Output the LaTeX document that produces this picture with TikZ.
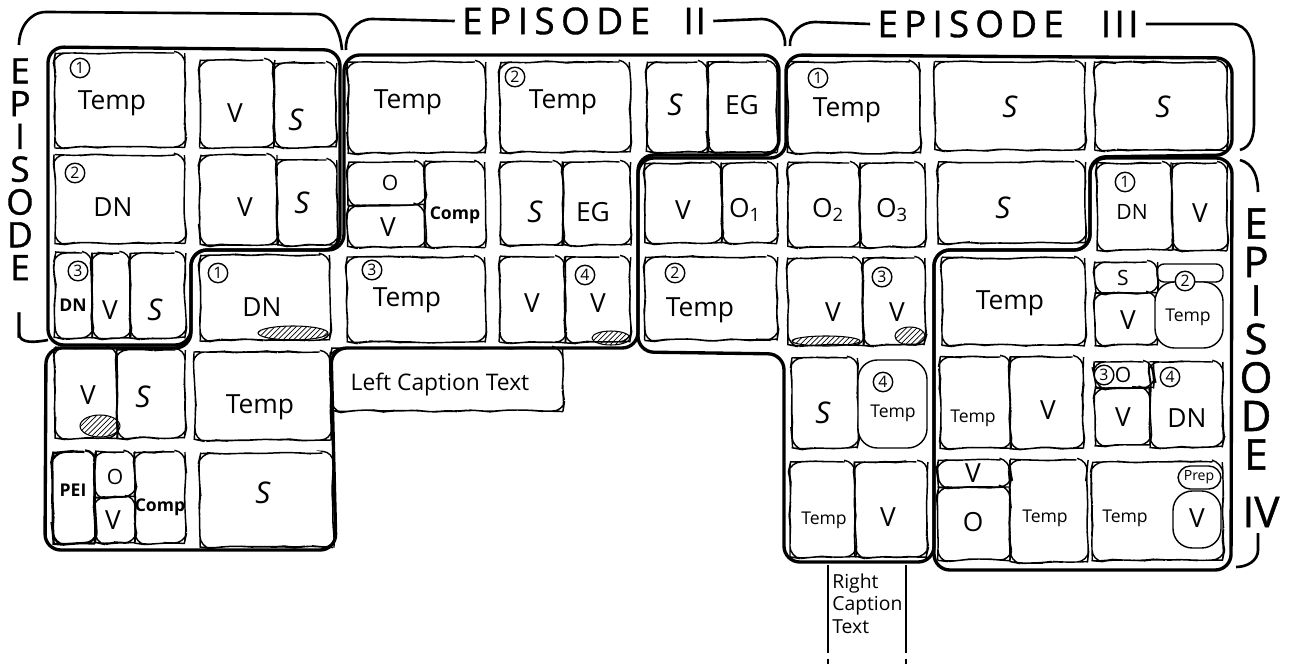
\documentclass[tikz,border=0pt]{standalone}
\usepackage{fontspec}
\setmainfont{Open Sans}
\usetikzlibrary{fit,patterns,decorations.pathmorphing}

\begin{document}
\begin{tikzpicture}
    [x=0.2mm, y=-0.2mm,
    glyph/.style={
        draw,
        line width=0.8pt,
        rounded corners=6pt,
        inner sep=0pt,
        decorate,
        decoration={random steps, segment length=6pt, amplitude=0.6pt}
    },
    blob/.style={draw, line width=0.8pt, rounded corners=11pt, inner sep=0pt},
    episode/.style={
        draw, line width=1.9pt, rounded corners=9pt
    },
    brace/.style={draw, line width=1.5pt},
    txt/.style={inner sep=0pt, font=\fontsize{15}{15}\selectfont},
    sym/.style={inner sep=0pt, font=\fontsize{17}{17}\selectfont\itshape},
    mid/.style={inner sep=0pt, font=\fontsize{12}{12}\selectfont},
    small/.style={inner sep=0pt, font=\fontsize{10}{10}\selectfont},
    comp/.style={inner sep=0pt, font=\fontsize{10}{10}\selectfont\bfseries},
    tiny/.style={inner sep=0pt, font=\fontsize{8}{8}\selectfont},
    num/.style={circle, draw, fill=white, line width=0.8pt, inner sep=1pt, font=\fontsize{9}{9}\selectfont},
    hatch/.style={draw, line width=0.6pt, pattern=north east lines},
    letter/.style={inner sep=0pt, font=\fontsize{20}{20}\selectfont\addfontfeature{FakeBold=1}},
    bigletter/.style={inner sep=0pt, font=\fontsize{24}{24}\selectfont\addfontfeature{FakeBold=1}},
    title/.style={inner sep=0pt, font=\fontsize{21}{21}\selectfont\addfontfeature{FakeBold=1}}
    ]
    \useasboundingbox (0,0) rectangle (1291,665);
    \pgfmathsetseed{11}

    % Episode outlines
    \draw[episode] (48,47) -- (340,50) -- (340,250) -- (191,250) -- (191,345) -- (48,345) -- cycle;
    \draw[episode] (344,55) -- (779,55) -- (779,155) -- (638,155) -- (638,348) -- (331,348)
        -- (336,550) -- (45,550) -- (46,348) -- (191,348) -- (191,250) -- (344,250) -- cycle;
    \draw[episode] (786,55) -- (1232,58) -- (1232,155) -- (1090,157) -- (1090,250) -- (934,250)
        -- (934,562) -- (784,562) -- (784,354) -- (638,352) -- (638,158) -- (786,158) -- cycle;
    \draw[episode] (1090,158) -- (1232,158) -- (1231,570) -- (934,570) -- (934,250) -- (1090,250) -- cycle;

    % Glyph blocks
    \foreach \n/\xa/\ya/\xb/\yb in {
        a1/55/53/185/147, b1v/200/60/274/147, b1s/274/63/336/147,
        c1/348/62/485/153, d1/500/62/630/152, e1s/647/62/708/152, e1g/708/62/777/152,
        f1/788/62/920/153, g1/935/62/1085/150, h1/1095/62/1227/150,
        a2/55/155/185/243, b2v/200/155/277/245, b2s/277/160/337/245,
        c2o/348/162/425/205, c2v/348/205/425/247, c2c/425/162/485/247,
        d2s/500/162/563/245, d2g/563/162/630/245, e2v/645/163/722/243, e2o/722/163/777/243,
        f2a/788/163/860/247, f2b/860/163/925/247, g2/938/162/1085/243,
        h2d/1097/163/1172/250, h2v/1172/163/1227/250,
        a3d/55/253/92/338, a3v/92/253/130/338, a3s/130/253/185/338,
        b3/200/255/330/340, c3/347/257/485/342, d3a/500/257/565/342, d3b/565/257/630/342,
        e3/645/257/777/340, f3a/788/258/863/345, f3b/863/258/925/345, g3/942/258/1085/345,
        h3s/1095/262/1157/293, h3v/1095/293/1157/345,
        a4v/55/348/117/438, a4s/117/350/185/438, b4/195/352/330/440,
        f4s/792/358/858/448, g4t/940/357/1010/448, g4v/1010/357/1083/448,
        h4o/1095/362/1153/388, h4v/1095/388/1150/445, h4d/1150/362/1223/447,
        a5o/95/452/135/497, a5v/95/497/135/543, a5c/135/452/185/543, b5/200/453/333/547,
        f5t/790/462/855/557, f5v/855/462/927/557,
        g5v/938/460/1010/487, g5o/938/487/1010/560, g5t/1010/460/1087/562,
        h5/1092/462/1223/560}
        \node[glyph, fit={(\xa,\ya) (\xb,\yb)}] (\n) {};
    \node[blob, rounded corners=4pt, fit={(1157,264) (1223,282)}] (h3r) {};
    \node[blob, fill=white, fit={(1155,282) (1223,348)}] (h3t) {};
    \node[blob, fill=white, fit={(858,360) (927,448)}] (f4t) {};
    \node[blob, fill=white, rounded corners=7pt, fit={(1178,466) (1221,489)}] (h5r) {};
    \node[blob, fill=white, fit={(1173,491) (1221,548)}] (h5p) {};
    \node[glyph, line width=1.3pt, fit={(53,452) (95,543)}] (a5p) {};

    % Shaded parts
    \draw[hatch] (293,333) ellipse [x radius=35, y radius=7];
    \draw[hatch] (611,338) ellipse [x radius=19, y radius=7];
    \draw[hatch] (826,341) ellipse [x radius=34, y radius=5];
    \draw[hatch] (910,336) ellipse [x radius=15, y radius=9];
    \draw[hatch] (100,426) ellipse [x radius=20, y radius=11];

    % Glyph texts
    \foreach \n/\x/\y/\s/\t in {
        la1/112/103/txt/Temp, lb1v/235/113/txt/V, lb1s/296/120/sym/S,
        lc1/408/102/txt/Temp, ld1/563/102/txt/Temp, le1s/675/105/sym/S, le1g/742/105/txt/EG,
        lf1/847/110/txt/Temp, lg1/1010/107/sym/S, lh1/1163/107/sym/S,
        la2/113/207/txt/DN, lb2v/245/207/txt/V, lb2s/302/203/sym/S,
        lc2o/390/183/mid/O, lc2v/388/227/txt/V, lc2c/455/215/comp/Comp,
        ld2s/535/212/sym/S, ld2g/593/212/txt/EG, le2v/683/210/txt/V,
        le2o/745/210/txt/{O\textsubscript{1}}, lf2a/828/210/txt/{O\textsubscript{2}},
        lf2b/892/210/txt/{O\textsubscript{3}}, lg2/1003/208/sym/S,
        lh2d/1132/212/mid/DN, lh2v/1200/213/txt/V,
        la3d/73/305/comp/DN, la3v/110/310/txt/V, la3s/155/310/sym/S,
        lb3/262/307/txt/DN, lc3/407/300/txt/Temp, ld3a/532/303/txt/V, ld3b/598/303/txt/V,
        le3/700/310/txt/Temp, lf3a/833/312/txt/V, lf3b/897/312/txt/V, lg3/1010/303/txt/Temp,
        lh3s/1123/278/mid/S, lh3v/1128/320/txt/V, lh3t/1188/317/small/Temp,
        la4v/88/395/txt/V, la4s/143/397/sym/S, lb4/260/407/txt/Temp,
        lf4s/823/413/sym/S, lf4t/893/413/small/Temp, lg4t/973/418/small/Temp, lg4v/1048/410/txt/V,
        lh4o/1123/375/mid/O, lh4v/1123/417/txt/V, lh4d/1187/418/txt/DN,
        la5p/73/490/comp/PEI, la5o/115/477/mid/O, la5v/113/520/txt/V, la5c/160/507/comp/Comp,
        lb5/263/493/sym/S, lf5t/824/520/small/Temp, lf5v/888/517/txt/V,
        lg5v/973/473/txt/V, lg5o/973/522/txt/O, lg5t/1045/518/small/Temp,
        lh5t/1125/518/small/Temp, lh5r/1199/477/tiny/Prep, lh5v/1197/518/txt/V}
        \node[\s] (\n) at (\x,\y) {\t};

    % Circled numbers
    \foreach \n/\x/\y/\d in {
        n1/80/68/1, n2/515/77/2, n3/818/78/1, n4/75/173/2, n5/1125/182/1,
        n6/78/271/3, n7/218/273/1, n8/372/270/3, n9/585/275/4, n10/675/273/2,
        n11/882/277/3, n12/1185/281/2, n13/883/382/4, n14/1104/375/3, n15/1170/377/4}
        \node[num] (\n) at (\x,\y) {\d};

    % Captions
    \node[glyph, fit={(331,348) (563,411)}] (lcap) {};
    \node[inner sep=0pt, font=\fontsize{13}{13}\selectfont] (lcaptxt) at (440,385) {Left Caption Text};
    \node[inner sep=0pt, align=left, anchor=north west, font=\fontsize{11}{13}\selectfont] (rcap) at (832,573) {Right\\Caption\\Text};
    \coordinate (rcapa) at (828,565);
    \coordinate (rcapb) at (828,648);
    \coordinate (rcapc) at (828,665);
    \coordinate (rcapd) at (906,565);
    \coordinate (rcape) at (906,648);
    \coordinate (rcapf) at (906,665);
    \draw[line width=0.8pt] (rcapa) -- (rcapb);
    \draw[line width=0.8pt] (rcapd) -- (rcape);
    \draw[line width=0.8pt, dashed] (rcapb) -- (rcapc);
    \draw[line width=0.8pt, dashed] (rcape) -- (rcapf);

    % Episode titles
    \node[title] (t2) at (584,21) {\makebox[107pt][s]{E\hfil P\hfil I\hfil S\hfil O\hfil D\hfil E}\hspace{19pt}I\kern1pt I};
    \node[title] (t3) at (1008,24) {\makebox[106pt][s]{E\hfil P\hfil I\hfil S\hfil O\hfil D\hfil E}\hspace{21pt}I\kern2pt I\kern2pt I};
    \foreach \ch [count=\i] in {E,P,I,S,O,D,E}
        \node[letter] (l\i) at (20,{38+32.8*\i}) {\ch};
    \node[letter] (lnum) at (19,325) {I};
    \foreach \ch [count=\i] in {E,P,I,S,O,D,E}
        \node[bigletter] (r\i) at (1256,{185+38.5*\i}) {\ch};
    \node[bigletter] (rnum) at (1261,512) {IV};

    % Braces
    \draw[brace] (19,45) to[out=90,in=180] (46,12) -- (316,14) to[out=0,in=95] (342,50);
    \draw[brace] (346,50) to[out=95,in=180] (372,19) -- ([xshift=-4pt]t2.west);
    \draw[brace] ([xshift=4pt]t2.east) -- (762,19) to[out=0,in=85] (785,46);
    \draw[brace] (790,46) to[out=95,in=180] (815,22) -- ([xshift=-4pt]t3.west);
    \draw[brace] ([xshift=4pt]t3.east) -- (1232,24) to[out=0,in=90] (1254,60) -- (1254,122) to[out=-90,in=15] (1240,150);
    \draw[brace] (1240,160) to[out=-15,in=90] (1258,192);
    \draw[brace] (1258,533) -- (1258,550) to[out=-90,in=0] (1236,567);
    \draw[brace] (19,333) to[out=-90,in=190] (48,340);
\end{tikzpicture}
\end{document}
